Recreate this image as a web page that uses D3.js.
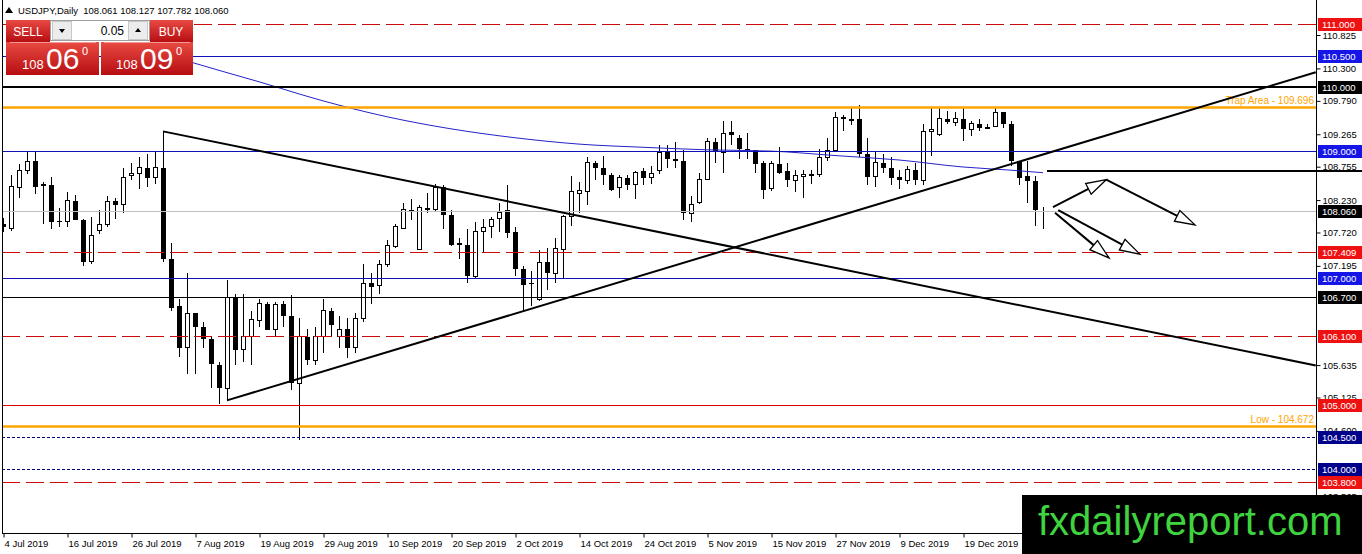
<!DOCTYPE html>
<html>
<head>
<meta charset="utf-8">
<script src="https://cdn.jsdelivr.net/npm/d3@7"></script>
<style>
  body { margin: 0; background: #fff; }
  svg { display: block; font-family: "Liberation Sans", Arial, sans-serif; }
</style>
</head>
<body>
<div id="chart"></div>
<script>
// USDJPY daily candles, 4 Jul 2019 .. 6 Jan 2020 (bar index = position)
const opens = [107.85,107.78,108.43,108.69,108.84,108.46,108.47,107.90,107.89,108.22,
  107.92,107.26,107.75,107.85,108.21,108.16,108.61,108.65,108.74,108.58,
  108.74,107.31,106.56,105.91,106.45,106.24,106.05,105.64,105.27,106.71,
  105.88,106.08,106.34,106.60,106.19,106.59,106.41,105.35,106.08,105.71,
  106.08,106.49,106.08,106.21,105.91,106.37,106.92,106.88,107.22,107.50,
  107.79,108.08,107.45,108.08,108.08,108.43,108.00,107.56,107.53,107.03,
  107.74,107.81,107.94,108.07,107.72,107.15,106.93,106.67,107.25,107.08,
  107.45,107.97,108.33,108.37,108.82,108.74,108.63,108.43,108.58,108.47,
  108.68,108.58,108.69,108.98,108.88,108.85,108.02,108.19,108.55,109.15,
  108.98,109.30,109.21,109.04,109.01,108.82,108.41,108.79,108.68,108.54,
  108.60,108.63,108.63,108.90,109.01,109.53,109.50,109.50,108.96,108.60,
  108.82,108.74,108.60,108.54,108.71,108.54,109.31,109.26,109.51,109.45,
  109.51,109.34,109.43,109.37,109.39,109.61,109.43,108.84,108.61,108.53,
  108.061];
const highs = [107.95,108.62,108.80,108.98,108.98,108.51,108.60,108.10,108.36,108.31,
  107.94,107.96,108.07,108.29,108.26,108.74,108.82,108.90,108.95,108.98,
  109.31,107.55,106.68,107.08,106.45,106.31,106.07,105.69,106.97,106.76,
  106.76,106.49,106.68,106.62,106.62,106.65,106.73,106.38,106.21,106.23,
  106.67,106.53,106.40,106.38,106.45,107.22,107.09,107.28,107.60,107.86,
  108.18,108.25,108.16,108.34,108.48,108.46,108.08,107.64,107.77,107.88,
  107.94,107.96,108.18,108.46,107.80,107.20,107.12,107.44,107.47,107.63,
  107.99,108.61,108.51,108.90,108.85,108.93,108.65,108.62,108.63,108.69,
  108.74,108.77,109.09,109.09,109.15,109.01,108.30,108.65,109.21,109.20,
  109.48,109.47,109.26,109.29,109.01,108.84,108.85,109.06,108.82,108.70,
  108.70,108.70,109.04,109.20,109.62,109.56,109.69,109.72,109.20,108.98,
  108.96,108.90,108.70,108.76,108.82,109.43,109.69,109.67,109.63,109.62,
  109.67,109.48,109.51,109.42,109.67,109.62,109.47,108.85,108.85,108.61,
  108.127];
const lows = [107.72,107.75,108.27,108.64,108.33,107.86,107.78,107.80,107.80,107.92,
  107.19,107.23,107.70,107.81,107.94,108.02,108.54,108.41,108.43,108.49,
  107.25,106.49,105.77,105.50,105.50,105.90,105.27,105.03,105.08,105.63,
  105.68,105.63,106.23,106.18,106.07,106.24,105.25,104.45,105.63,105.63,
  105.82,106.10,105.91,105.74,105.82,106.31,106.60,106.76,107.17,107.48,
  107.78,107.91,107.45,108.02,108.06,107.78,107.50,107.31,106.93,107.00,
  107.40,107.64,107.72,107.63,107.03,106.50,106.57,106.65,106.81,106.92,
  107.01,107.83,108.02,108.15,108.54,108.46,108.38,108.27,108.39,108.24,
  108.47,108.49,108.64,108.74,108.73,107.91,107.88,108.17,108.54,108.82,
  108.65,109.09,108.88,108.88,108.65,108.24,108.38,108.64,108.43,108.35,
  108.27,108.48,108.60,108.85,108.98,109.32,109.41,108.90,108.47,108.43,
  108.66,108.46,108.41,108.49,108.46,108.46,108.93,109.24,109.42,109.39,
  109.16,109.23,109.32,109.34,109.38,109.37,108.77,108.46,108.19,107.83,
  107.782];
const closes = [107.80,108.44,108.69,108.84,108.43,108.48,107.88,107.88,108.22,107.92,
  107.25,107.67,107.85,108.21,108.16,108.58,108.65,108.74,108.58,108.74,
  107.31,106.54,105.91,106.45,106.23,106.05,105.66,105.27,106.70,105.88,
  106.08,106.35,106.60,106.18,106.59,106.40,105.36,106.08,105.71,106.08,
  106.49,106.26,106.19,105.91,106.37,106.92,106.87,107.22,107.52,107.81,
  108.08,108.07,108.11,108.10,108.43,107.99,107.52,107.52,107.03,107.74,
  107.80,107.93,108.03,107.71,107.15,106.89,106.92,107.25,107.08,107.47,
  107.97,108.36,108.38,108.82,108.74,108.63,108.39,108.58,108.47,108.66,
  108.58,108.64,108.98,108.88,108.84,108.02,108.16,108.55,109.15,108.98,
  109.27,109.26,109.04,109.01,108.80,108.39,108.80,108.66,108.54,108.62,
  108.63,108.63,108.90,109.01,109.53,109.50,109.50,108.96,108.60,108.82,
  108.73,108.57,108.54,108.71,108.54,109.31,109.34,109.51,109.45,109.51,
  109.34,109.43,109.36,109.37,109.61,109.42,108.84,108.57,108.53,108.07,
  108.060];

// moving average read at sample bars
const maBars = [20,24,32,40,48,56,64,72,80,88,96,104,112,120,126,130];
const maValues = [110.54,110.38,110.09,109.79,109.54,109.35,109.21,109.11,109.06,109.02,109.00,108.93,108.86,108.75,108.70,108.66];

// date labels every 8 bars
const dateLabels = ["4 Jul 2019","16 Jul 2019","26 Jul 2019","7 Aug 2019","19 Aug 2019","29 Aug 2019",
  "10 Sep 2019","20 Sep 2019","2 Oct 2019","14 Oct 2019","24 Oct 2019","5 Nov 2019",
  "15 Nov 2019","27 Nov 2019","9 Dec 2019","19 Dec 2019"];
const dateBars = dateLabels.map((d, i) => i * 8);

// price scale tick values (the ones not hidden under level boxes)
const priceTicks = [110.825,110.300,109.790,109.265,108.755,108.230,107.720,107.195,
  105.635,105.125,104.600,103.565];

// horizontal levels
const levelPrices = [111.000,110.500,110.000,109.696,109.000,108.060,107.409,107.000,106.700,106.100,105.000,104.672,104.500,104.000,103.800];
const levelKinds  = ["redDash","blue","blackThick","orange","blue","current","redDash","blue","black","redDash","red","orange","navyDot","navyDot","redDash"];
const levelTexts  = ["","","","Trap Area - 109.696","","","","","","","","Low - 104.672","","",""];

// drawn trend lines and arrows, [bar, price]
const trendLines = [
  [[20, 109.31], [164.1, 105.63]],
  [[28, 105.08], [164.1, 110.24]]
];
const arrows = [
  [[131.25, 108.12], [137.9, 108.55]],
  [[137.9, 108.55], [149.0, 107.84]],
  [[131.9, 108.07], [142.1, 107.38]],
  [[131.5, 108.03], [138.25, 107.32]]
];
const markLevel = {bar: 130.5, price: 108.69};

const header = "USDJPY,Daily  108.061 108.127 107.782 108.060";

// ---- layout / styles ----
const svgWidth = 1362, svgHeight = 554;
const plotLeft = 2, plotRight = 1316, plotBottom = 533;

const lineStyle = {
  redDash:    {stroke: "#cc0a0a", width: 1, dash: "18,6", box: "#ee1111"},
  red:        {stroke: "#dd0000", width: 1, dash: null,   box: "#ee1111"},
  blue:       {stroke: "#1010b8", width: 1, dash: null,   box: "#1515e8"},
  blackThick: {stroke: "#000",    width: 2, dash: null,   box: "#000"},
  black:      {stroke: "#000",    width: 1, dash: null,   box: "#000"},
  orange:     {stroke: "#ffa500", width: 2.5, dash: null, box: null},
  current:    {stroke: "#c0c0c0", width: 1, dash: null,   box: "#000"},
  navyDot:    {stroke: "#000080", width: 1, dash: "3,2",  box: "#00008a"}
};

const svg = d3.select("#chart").append("svg")
  .attr("width", svgWidth)
  .attr("height", svgHeight);

const x = d3.scaleLinear().domain([0, 130]).range([3, 1043]);
const y = d3.scaleLinear().domain([103.8, 111]).range([481.8, 23.9]);

svg.append("defs").append("clipPath").attr("id", "plot")
  .append("rect").attr("x", plotLeft).attr("y", 0)
  .attr("width", plotRight - plotLeft).attr("height", plotBottom);

const plot = svg.append("g").attr("clip-path", "url(#plot)");

// candles
const bars = opens.map((o, i) => ({i, o, h: highs[i], l: lows[i], c: closes[i]}));
const candles = plot.append("g").attr("shape-rendering", "crispEdges");

candles.selectAll("line").data(bars).join("line")
  .attr("x1", d => x(d.i) + 0.5).attr("x2", d => x(d.i) + 0.5)
  .attr("y1", d => y(d.h)).attr("y2", d => y(d.l))
  .attr("stroke", "#000");

candles.selectAll("rect").data(bars).join("rect")
  .attr("x", d => d.c >= d.o ? x(d.i) - 1.5 : x(d.i) - 2)
  .attr("width", d => d.c >= d.o ? 4 : 5)
  .attr("y", d => y(Math.max(d.o, d.c)))
  .attr("height", d => Math.max(1, y(Math.min(d.o, d.c)) - y(Math.max(d.o, d.c))))
  .attr("fill", d => d.c >= d.o ? "#fff" : "#000")
  .attr("stroke", d => d.c >= d.o ? "#000" : "none");

// moving average
plot.append("path")
  .datum(maBars.map((b, i) => [b, maValues[i]]))
  .attr("fill", "none")
  .attr("stroke", "#2323c8")
  .attr("stroke-width", 1)
  .attr("d", d3.line().x(d => x(d[0])).y(d => y(d[1])).curve(d3.curveMonotoneX));

// horizontal levels
const levels = levelPrices.map((p, i) => ({p, kind: levelKinds[i], text: levelTexts[i]}));
plot.append("g").selectAll("line").data(levels).join("line")
  .attr("x1", plotLeft).attr("x2", plotRight)
  .attr("y1", d => Math.round(y(d.p)) + (lineStyle[d.kind].width % 2 ? 0.5 : 0))
  .attr("y2", d => Math.round(y(d.p)) + (lineStyle[d.kind].width % 2 ? 0.5 : 0))
  .attr("stroke", d => lineStyle[d.kind].stroke)
  .attr("stroke-width", d => lineStyle[d.kind].width)
  .attr("stroke-dasharray", d => lineStyle[d.kind].dash);

plot.append("g").selectAll("text").data(levels.filter(d => d.text)).join("text")
  .attr("x", plotRight - 2)
  .attr("y", d => y(d.p) - 3)
  .attr("text-anchor", "end")
  .attr("font-size", "10px")
  .attr("fill", "#ffa500")
  .text(d => d.text);

// trend lines
plot.append("g").selectAll("line").data(trendLines).join("line")
  .attr("x1", d => x(d[0][0])).attr("y1", d => y(d[0][1]))
  .attr("x2", d => x(d[1][0])).attr("y2", d => y(d[1][1]))
  .attr("stroke", "#000").attr("stroke-width", 2);

// arrows
const arrowG = plot.append("g");
arrows.forEach(a => {
  const x1 = x(a[0][0]), y1 = y(a[0][1]), x2 = x(a[1][0]), y2 = y(a[1][1]);
  const ang = Math.atan2(y2 - y1, x2 - x1);
  const len = 20, hw = 6;
  const bx = x2 - len * Math.cos(ang), by = y2 - len * Math.sin(ang);
  arrowG.append("line")
    .attr("x1", x1).attr("y1", y1).attr("x2", bx).attr("y2", by)
    .attr("stroke", "#000").attr("stroke-width", 2);
  const pts = [[x2, y2],
    [bx + hw * Math.sin(ang), by - hw * Math.cos(ang)],
    [bx - hw * Math.sin(ang), by + hw * Math.cos(ang)]];
  arrowG.append("polygon")
    .attr("points", pts.map(p => p.join(",")).join(" "))
    .attr("fill", "#fff").attr("stroke", "#000").attr("stroke-width", 1.3);
});

// frame
svg.append("line").attr("x1", plotLeft + 0.5).attr("x2", plotLeft + 0.5)
  .attr("y1", 0).attr("y2", plotBottom).attr("stroke", "#000");
svg.append("line").attr("x1", plotRight + 0.5).attr("x2", plotRight + 0.5)
  .attr("y1", 0).attr("y2", svgHeight).attr("stroke", "#000");

// price axis
const yAxis = d3.axisRight(y).tickValues(priceTicks)
  .tickFormat(d3.format(".3f")).tickSize(4).tickPadding(2).tickSizeOuter(0);
svg.append("g")
  .attr("transform", `translate(${plotRight + 0.5},0)`)
  .call(yAxis)
  .call(g => g.select(".domain").remove())
  .call(g => g.selectAll("text").attr("font-size", "9.5px").attr("fill", "#000")
    .attr("font-family", "Liberation Sans, Arial, sans-serif"))
  .call(g => g.selectAll("line").attr("stroke", "#000"));

// date axis
const xAxis = d3.axisBottom(x).tickValues(dateBars)
  .tickFormat((d, i) => dateLabels[i]).tickSize(4).tickSizeOuter(0);
svg.append("g")
  .attr("transform", `translate(0,${plotBottom + 0.5})`)
  .call(xAxis)
  .call(g => g.select(".domain").attr("d", `M${plotLeft},0H${plotRight}`).attr("stroke", "#000"))
  .call(g => g.selectAll("text").attr("text-anchor", "start").attr("x", 1)
    .attr("font-size", "9.5px").attr("fill", "#000")
    .attr("font-family", "Liberation Sans, Arial, sans-serif"))
  .call(g => g.selectAll(".tick line").attr("stroke", "#000").attr("transform", "translate(0.5,0)"));

// level price boxes on the axis
const boxed = levels.filter(d => lineStyle[d.kind].box);
const boxG = svg.append("g");
boxG.selectAll("rect").data(boxed).join("rect")
  .attr("x", plotRight + 2).attr("y", d => Math.round(y(d.p)) - 6)
  .attr("width", svgWidth - plotRight - 2).attr("height", 13)
  .attr("fill", d => lineStyle[d.kind].box);
boxG.selectAll("text").data(boxed).join("text")
  .attr("x", plotRight + 6).attr("y", d => Math.round(y(d.p)) + 4)
  .attr("font-size", "9.5px").attr("fill", "#fff")
  .text(d => d3.format(".3f")(d.p));

// short marker line crossing the axis
svg.append("line")
  .attr("x1", x(markLevel.bar)).attr("x2", svgWidth)
  .attr("y1", Math.round(y(markLevel.price))).attr("y2", Math.round(y(markLevel.price)))
  .attr("stroke", "#000").attr("stroke-width", 2);

// header
svg.append("polygon").attr("points", "5,13 9,7 13,13").attr("fill", "#000");
svg.append("text").attr("x", 18).attr("y", 14)
  .attr("font-size", "9.5px").attr("fill", "#000")
  .attr("xml:space", "preserve").text(header);

// one-click trading panel
const defs = svg.select("defs");
const grad = defs.append("linearGradient").attr("id", "redGrad")
  .attr("x1", 0).attr("y1", 0).attr("x2", 0).attr("y2", 1);
grad.append("stop").attr("offset", "0%").attr("stop-color", "#e84a42");
grad.append("stop").attr("offset", "100%").attr("stop-color", "#b70d12");

const panel = svg.append("g");
panel.append("rect").attr("x", 6).attr("y", 20).attr("width", 44).attr("height", 22).attr("fill", "url(#redGrad)");
panel.append("rect").attr("x", 150).attr("y", 20).attr("width", 43).attr("height", 22).attr("fill", "url(#redGrad)");
panel.append("rect").attr("x", 6).attr("y", 42).attr("width", 93).attr("height", 33).attr("fill", "url(#redGrad)");
panel.append("rect").attr("x", 101).attr("y", 42).attr("width", 92).attr("height", 33).attr("fill", "url(#redGrad)");
panel.append("line").attr("x1", 10).attr("x2", 96).attr("y1", 42.5).attr("y2", 42.5).attr("stroke", "#f29a94");
panel.append("line").attr("x1", 104).attr("x2", 190).attr("y1", 42.5).attr("y2", 42.5).attr("stroke", "#f29a94");
panel.append("text").attr("x", 28).attr("y", 36).attr("text-anchor", "middle")
  .attr("font-size", "12px").attr("fill", "#fff").text("SELL");
panel.append("text").attr("x", 171).attr("y", 36).attr("text-anchor", "middle")
  .attr("font-size", "12px").attr("fill", "#fff").text("BUY");

// lot spinner
panel.append("rect").attr("x", 50.5).attr("y", 20.5).attr("width", 99).attr("height", 20)
  .attr("fill", "#fff").attr("stroke", "#a0a0a0");
panel.append("rect").attr("x", 52.5).attr("y", 21.5).attr("width", 19).attr("height", 18)
  .attr("fill", "#ececec").attr("stroke", "#c8c8c8");
panel.append("rect").attr("x", 128.5).attr("y", 21.5).attr("width", 19).attr("height", 18)
  .attr("fill", "#ececec").attr("stroke", "#c8c8c8");
panel.append("polygon").attr("points", "59,29 65,29 62,33").attr("fill", "#000");
panel.append("polygon").attr("points", "135,32 141,32 138,28").attr("fill", "#000");
panel.append("text").attr("x", 124).attr("y", 35).attr("text-anchor", "end")
  .attr("font-size", "12px").attr("fill", "#000").text("0.05");

[["108", "06", 22], ["108", "09", 116]].forEach(([big, pips, px]) => {
  panel.append("text").attr("x", px).attr("y", 69).attr("font-size", "13px").attr("fill", "#fff").text(big);
  panel.append("text").attr("x", px + 24).attr("y", 69).attr("font-size", "30px").attr("fill", "#fff").text(pips);
  panel.append("text").attr("x", px + 60).attr("y", 55).attr("font-size", "11px").attr("fill", "#fff").text("0");
});

// watermark
svg.append("rect").attr("x", 1022).attr("y", 495).attr("width", svgWidth - 1022).attr("height", svgHeight - 495).attr("fill", "#000");
svg.append("text").attr("x", 1038).attr("y", 535)
  .attr("font-size", "40px").attr("fill", "#3fd43f")
  .text("fxdailyreport.com");
</script>
</body>
</html>
